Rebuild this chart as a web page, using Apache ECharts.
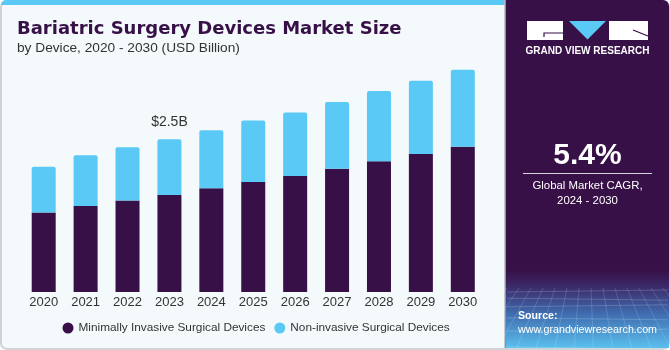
<!DOCTYPE html>
<html>
<head>
<meta charset="utf-8">
<script src="https://cdn.jsdelivr.net/npm/echarts@6/dist/echarts.min.js"></script>
<style>html,body{margin:0;padding:0;background:#fff}#c{width:670px;height:350px}</style>
</head>
<body>
<div id="c"></div>
<script>
const years = ['2020','2021','2022','2023','2024','2025','2026','2027','2028','2029','2030'];
const minimallyInvasive = [1.30,1.41,1.50,1.59,1.70,1.80,1.90,2.02,2.14,2.26,2.38];
const nonInvasive = [0.75,0.83,0.87,0.91,0.95,1.01,1.04,1.09,1.15,1.20,1.26];
const seriesNames = ['Minimally Invasive Surgical Devices','Non-invasive Surgical Devices'];
const annotationIndex = 3;
const annotationText = '$2.5B';

const FONT = '"Liberation Sans", Arial, sans-serif';
const TFONT = '"DejaVu Sans", "Liberation Sans", sans-serif';
const DARK = '#371047';
const LIGHT = '#5bc9f5';

const chart = echarts.init(document.getElementById('c'), null, {renderer:'canvas'});

// decorative grid lines in bottom of side panel
const deco = [];
for (let k = 0; k < 7; k++) {
  const y = 292 + k * k * 1.2 + k * 5;
  if (y > 347) break;
  deco.push({type:'line', shape:{x1:507,y1:y,x2:668,y2:y+ (k%2?2:-2)}, style:{stroke:'rgba(255,255,255,0.18)',lineWidth:1}, silent:true});
}
for (let k = 0; k < 14; k++) {
  const xTop = 507 + k * 12;
  const xBot = 587 + (xTop - 587) * 1.6;
  deco.push({type:'line', shape:{x1:xTop,y1:288,x2:xBot,y2:348}, style:{stroke:'rgba(255,255,255,0.15)',lineWidth:1}, silent:true});
}

const option = {
  backgroundColor: 'transparent',
  animation: false,
  textStyle: {fontFamily: FONT},
  graphic: [
    {type:'rect', z:-10, shape:{x:1,y:1,width:668,height:348,r:6}, style:{fill:'#f4f9fc',stroke:'#cfd3d6',lineWidth:2}},
    {type:'rect', z:-9, shape:{x:1,y:0,width:505,height:5,r:[5,0,0,0]}, style:{fill:LIGHT}},
    {type:'rect', z:-8, shape:{x:505,y:0,width:164,height:348,r:[0,6,0,0]}, style:{fill:DARK}},
    {type:'line', z:-8, shape:{x1:505,y1:0,x2:505,y2:348}, style:{stroke:'#b9b6bf',lineWidth:1.5}},
    {type:'rect', z:-7, shape:{x:506,y:270,width:163,height:78}, style:{fill:new echarts.graphic.LinearGradient(0,0,0,1,[
      {offset:0,color:'#371047'},{offset:0.2,color:'#3b2866'},{offset:0.55,color:'#3f6aae'},{offset:1,color:'#5ac0ee'}])}},
    {type:'group', z:-6, children: deco},
    // logo
    {type:'rect', shape:{x:527,y:21,width:36,height:19}, style:{fill:'#fff'}},
    {type:'polyline', shape:{points:[[563,33],[544,33],[544,37]]}, style:{stroke:DARK,lineWidth:1.2,fill:null}},
    {type:'polygon', shape:{points:[[569,21],[606,21],[587.5,39.5]]}, style:{fill:LIGHT}},
    {type:'rect', shape:{x:609,y:21,width:39,height:19}, style:{fill:'#fff'}},
    {type:'line', shape:{x1:633,y1:30,x2:648,y2:36}, style:{stroke:DARK,lineWidth:1.2}},
    {type:'text', style:{x:587.5,y:51,text:'GRAND VIEW RESEARCH',fill:'#fff',font:'bold 10px '+FONT,textAlign:'center',textVerticalAlign:'middle'}},
    // CAGR
    {type:'text', style:{x:587.5,y:156,text:'5.4%',fill:'#fff',font:'bold 30px '+FONT,textAlign:'center',textVerticalAlign:'middle'}},
    {type:'line', shape:{x1:523,y1:173.5,x2:652,y2:173.5}, style:{stroke:'#d9d2df',lineWidth:1}},
    {type:'text', style:{x:587.5,y:186,text:'Global Market CAGR,',fill:'#fff',font:'11.4px '+FONT,textAlign:'center',textVerticalAlign:'middle'}},
    {type:'text', style:{x:587.5,y:201,text:'2024 - 2030',fill:'#fff',font:'11.4px '+FONT,textAlign:'center',textVerticalAlign:'middle'}},
    {type:'text', style:{x:518,y:316,text:'Source:',fill:'#fff',font:'bold 10.6px '+FONT,textAlign:'left',textVerticalAlign:'middle'}},
    {type:'text', style:{x:518,y:330,text:'www.grandviewresearch.com',fill:'#fff',font:'10.7px '+FONT,textAlign:'left',textVerticalAlign:'middle'}},
    // title
    {type:'text', style:{x:17,y:29,text:'Bariatric Surgery Devices Market Size',fill:DARK,font:'bold 18px '+TFONT,textAlign:'left',textVerticalAlign:'middle'}},
    {type:'text', style:{x:17,y:48.5,text:'by Device, 2020 - 2030 (USD Billion)',fill:'#333',font:'13.7px '+FONT,textAlign:'left',textVerticalAlign:'middle'}}
  ],
  legend: {
    left: 62.5, top: 322, padding: 0,
    icon: 'circle', itemWidth: 11, itemHeight: 11, itemGap: 9,
    textStyle: {fontFamily: FONT, fontSize: 11.8, color: '#333'},
    data: seriesNames
  },
  grid: {left: 22.75, width: 461, top: 47.7, height: 244.3},
  xAxis: {
    type: 'category', data: years,
    axisLine: {show:false}, axisTick: {show:false},
    axisLabel: {fontFamily: FONT, fontSize: 13, color: '#333', margin: 4}
  },
  yAxis: {type:'value', min:0, max:4, show:false, splitLine:{show:false}},
  series: [
    {name: seriesNames[0], type:'bar', stack:'t', barWidth: 24, data: minimallyInvasive,
     itemStyle:{color: DARK}},
    {name: seriesNames[1], type:'bar', stack:'t', barWidth: 24,
     data: nonInvasive.map((v,i) => i === annotationIndex ? {value:v, label:{show:true, formatter: annotationText}} : v),
     itemStyle:{color: LIGHT, borderRadius:[2,2,0,0]},
     label:{show:false, position:'top', distance: 10, fontFamily: FONT, fontSize: 14, color:'#333'}}
  ]
};
chart.setOption(option);
</script>
</body>
</html>
